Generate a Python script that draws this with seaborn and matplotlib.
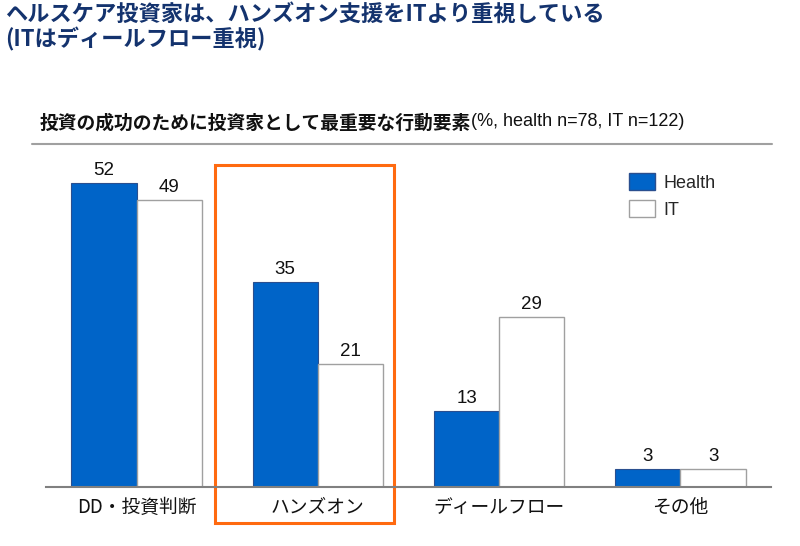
import pandas as pd
import matplotlib.pyplot as plt
import matplotlib.patches as mpatches
import seaborn as sns

# データ
categories = ["DD・投資判断", "ハンズオン", "ディールフロー", "その他"]
health = [52, 35, 13, 3]
it = [49, 21, 29, 3]
series_names = ["Health", "IT"]

title = "ヘルスケア投資家は、ハンズオン支援をITより重視している\n(ITはディールフロー重視)"
subtitle_main = "投資の成功のために投資家として最重要な行動要素"
subtitle_note = "(%, health n=78, IT n=122)"

sns.set_theme(style="white")
plt.rcParams['font.family'] = ['Noto Sans CJK JP', 'DejaVu Sans']

df = pd.DataFrame({
    "category": categories * 2,
    "value": health + it,
    "series": [series_names[0]] * len(categories) + [series_names[1]] * len(categories),
})

fig = plt.figure(figsize=(8, 5.46), dpi=100)
ax = fig.add_axes([0.0575, 0.108, 0.9063, 0.617])

sns.barplot(data=df, x="category", y="value", hue="series", order=categories,
            hue_order=series_names, palette={"Health": "#0064C8", "IT": "white"},
            saturation=1, width=0.72, ax=ax, legend=False)

# 枠線の色
for bar in ax.containers[0]:
    bar.set_edgecolor("#2A4F8F")
    bar.set_linewidth(0.8)
for bar in ax.containers[1]:
    bar.set_edgecolor("#A0A0A0")
    bar.set_linewidth(1.0)

for cont in ax.containers:
    ax.bar_label(cont, padding=3, fontsize=13.5, color="#111111", family=['Liberation Sans', 'DejaVu Sans'])

ax.set_xlim(-0.5, 3.5)
ax.set_ylim(0, 57.6)
ax.set_xlabel("")
ax.set_ylabel("")
ax.set_yticks([])
for side in ["left", "right", "top"]:
    ax.spines[side].set_visible(False)
ax.spines["bottom"].set_color("#808080")
ax.spines["bottom"].set_linewidth(1.5)
ax.tick_params(axis="x", length=0, pad=7, labelsize=13.5, colors="#111111")

# ハンズオン強調枠
ax.add_patch(mpatches.Rectangle((0.433, -6.15), 0.987, 61.2, fill=False,
                                edgecolor="#FF6A10", linewidth=2.2, clip_on=False))

# 凡例
handles = [mpatches.Patch(facecolor="#0064C8", edgecolor="#2A4F8F", label="Health"),
           mpatches.Patch(facecolor="white", edgecolor="#A0A0A0", label="IT")]
ax.legend(handles=handles, loc="upper left", bbox_to_anchor=(0.782, 0.98), frameon=False,
          handlelength=1.4, handleheight=1.1, labelspacing=0.45, handletextpad=0.5,
          prop={'family': ['Liberation Sans', 'DejaVu Sans'], 'size': 13})

# タイトルとサブタイトル
fig.text(0.006, 0.995, title, ha="left", va="top", fontsize=16, fontweight="bold",
         color="#14336E", linespacing=1.1)
sub = fig.text(0.05, 0.758, subtitle_main, ha="left", va="bottom", fontsize=13.5,
               fontweight="bold", color="#111111")
ax.annotate(subtitle_note, xy=(1, 0.1), xycoords=sub, ha="left", va="bottom",
            fontsize=13, family=['Liberation Sans', 'DejaVu Sans'], color="#111111",
            annotation_clip=False)
fig.add_artist(plt.Line2D([0.04, 0.965], [0.736, 0.736], color="#A0A0A0", linewidth=1.5))

fig.savefig("out.png", dpi=100)
